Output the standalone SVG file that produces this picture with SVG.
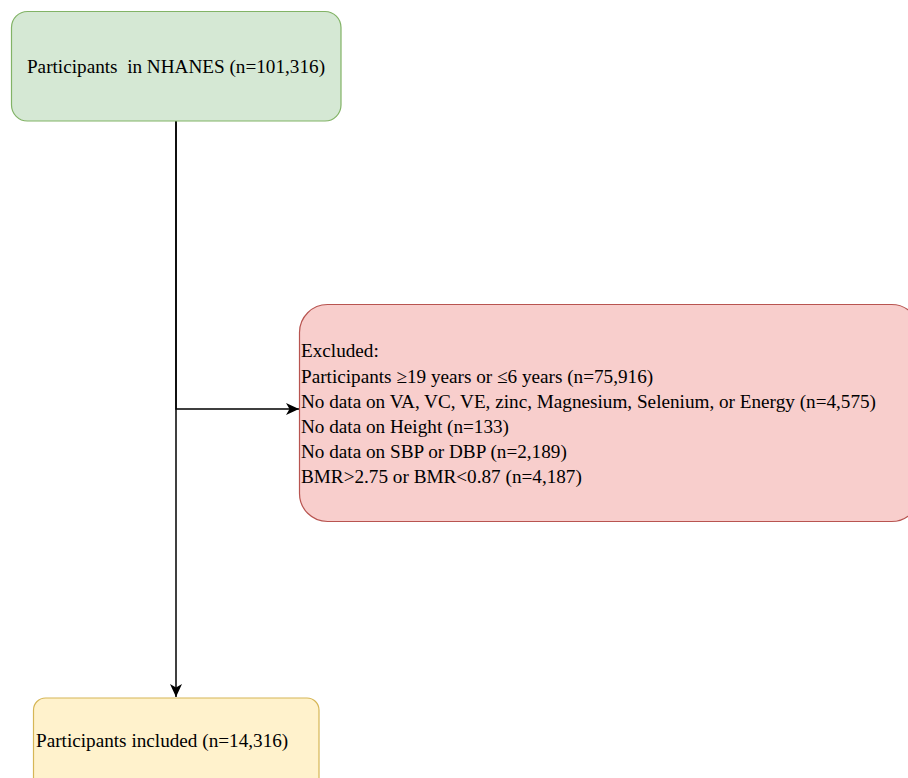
<svg xmlns="http://www.w3.org/2000/svg" width="908" height="778" viewBox="0 0 908 778">
<style>
text{font-family:"Liberation Serif","Times New Roman",serif;font-size:19.2px;fill:#000}
.edge{fill:none;stroke:#000;stroke-width:1.5}
</style>
<defs>
<marker id="arr" markerUnits="userSpaceOnUse" markerWidth="14" markerHeight="12" refX="13" refY="6" orient="auto" viewBox="0 0 14 12">
<path d="M0,0 L13,6 L0,12 L3.5,6 z" fill="#000"/>
</marker>
</defs>
<rect width="908" height="778" fill="#fff"/>
<g id="connectors">
<path class="edge" d="M176,121 V697" marker-end="url(#arr)"/>
<path class="edge" d="M176,121 V409 H299" marker-end="url(#arr)"/>
</g>
<g id="node-nhanes">
<rect x="11.5" y="11.5" width="329.5" height="109.5" rx="16" fill="#d5e8d4" stroke="#82b366" stroke-width="1.2"/>
<text x="176" y="73" text-anchor="middle" xml:space="preserve">Participants  in NHANES (n=101,316)</text>
</g>
<g id="node-excluded">
<rect x="299.5" y="304.5" width="620" height="217" rx="28" fill="#f8cecc" stroke="#b85450" stroke-width="1.2"/>
<text x="301" y="357">Excluded:</text>
<text x="301" y="382.5">Participants ≥19 years or ≤6 years (n=75,916)</text>
<text x="301" y="408">No data on VA, VC, VE, zinc, Magnesium, Selenium, or Energy (n=4,575)</text>
<text x="301" y="433">No data on Height (n=133)</text>
<text x="301" y="458">No data on SBP or DBP (n=2,189)</text>
<text x="301" y="483">BMR&gt;2.75 or BMR&lt;0.87 (n=4,187)</text>
</g>
<g id="node-included">
<rect x="33.5" y="698" width="285.5" height="100" rx="12" fill="#fff2cc" stroke="#d6b656" stroke-width="1.2"/>
<text x="36" y="746.5">Participants included (n=14,316)</text>
</g>
</svg>
